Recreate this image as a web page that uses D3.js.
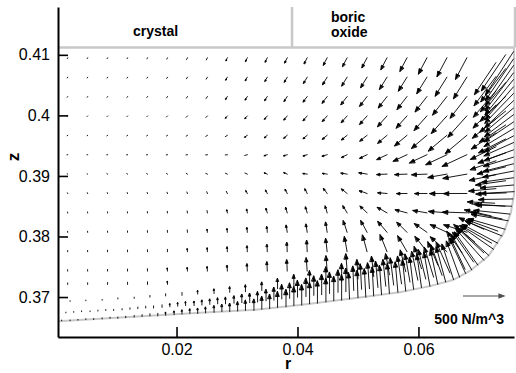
<!DOCTYPE html>
<html>
<head>
<meta charset="utf-8">
<script src="https://cdn.jsdelivr.net/npm/d3@7"></script>
<style>
  body { margin: 0; background: #fff; }
  svg { display: block; }
  text { font-family: "Liberation Sans", Arial, Helvetica, sans-serif; }
</style>
</head>
<body>
<div id="chart"></div>
<script>
// ---- data (r, z in m; force magnitude in N/m^3; direction in degrees, ccw from +r) ----

// melt outline: bottom (melt/crucible), corner and side wall
const meltR = [0.0004, 0.0073, 0.0156, 0.0239, 0.0331, 0.0404, 0.0487, 0.0569, 0.0619, 0.0657, 0.0685, 0.0716, 0.0741, 0.0753, 0.0758, 0.0759, 0.0758];
const meltZ = [0.3660, 0.3664, 0.3669, 0.3674, 0.3679, 0.3687, 0.3697, 0.3708, 0.3718, 0.3728, 0.3743, 0.3768, 0.3806, 0.3840, 0.3869, 0.3910, 0.4112];
const interfaceZ = 0.4112;
const dividerR = 0.0391;

// interior mesh nodes
const gridR = [0.0020, 0.0053, 0.0086, 0.0119, 0.0152, 0.0185, 0.0218, 0.0251, 0.0284, 0.0317, 0.0350, 0.0383, 0.0416, 0.0449, 0.0482, 0.0515, 0.0548, 0.0581, 0.0614, 0.0647, 0.0680];
const gridZ = [0.4095, 0.4063, 0.4031, 0.3999, 0.3967, 0.3935, 0.3903, 0.3871, 0.3839, 0.3807, 0.3775, 0.3743, 0.3721];
const gridMag = [
  [9, 9, 10, 11, 12, 16, 21, 27, 37, 46, 55, 67, 79, 98, 116, 134, 159, 183, 220, 256, 293],
  [9, 9, 10, 11, 12, 16, 21, 27, 37, 46, 55, 67, 85, 104, 122, 146, 171, 195, 232, 268, 305],
  [9, 9, 10, 11, 12, 16, 21, 27, 37, 46, 55, 67, 79, 98, 122, 146, 171, 195, 232, 281, 329],
  [9, 9, 10, 11, 12, 16, 20, 24, 33, 41, 49, 61, 73, 85, 104, 134, 171, 195, 232, 281, 342],
  [7, 7, 9, 10, 11, 13, 17, 22, 28, 37, 43, 52, 61, 73, 85, 110, 146, 195, 244, 293, 342],
  [7, 7, 9, 10, 11, 13, 16, 20, 24, 31, 37, 43, 49, 61, 73, 98, 134, 183, 232, 281, 329],
  [7, 7, 9, 10, 11, 13, 16, 20, 24, 31, 37, 43, 49, 55, 73, 98, 122, 146, 183, 232, 293],
  [7, 9, 10, 11, 12, 15, 18, 22, 28, 37, 43, 55, 61, 73, 85, 98, 110, 122, 146, 207, 281],
  [9, 10, 11, 12, 15, 18, 22, 27, 34, 43, 55, 67, 73, 85, 98, 116, 134, 146, 171, 220, 293],
  [10, 11, 12, 15, 18, 22, 27, 34, 43, 55, 67, 85, 98, 122, 146, 159, 171, 171, 183, 220, 293],
  [12, 13, 16, 18, 22, 27, 34, 43, 55, 67, 85, 110, 134, 159, 183, 207, 220, 220, 232, 268, null],
  [15, 16, 18, 22, 27, 33, 40, 51, 67, 85, 110, 134, 159, 183, 207, null, null, null, null, null, null],
  [16, 18, 21, 24, 29, 35, null, null, null, null, null, null, null, null, null, null, null, null, null, null, null]
];
const gridAng = [
  [242, 242, 242, 242, 242, 242, 242, 242, 242, 242, 242, 242, 242, 242, 242, 242, 242, 242, 242, 242, 242],
  [238, 238, 238, 238, 238, 238, 238, 238, 238, 238, 238, 238, 238, 238, 238, 238, 238, 238, 238, 238, 238],
  [235, 235, 235, 235, 235, 235, 235, 235, 235, 235, 235, 235, 232, 232, 232, 232, 232, 232, 232, 232, 232],
  [225, 225, 225, 225, 225, 225, 225, 225, 225, 225, 228, 228, 228, 228, 228, 228, 228, 228, 228, 228, 228],
  [212, 212, 212, 212, 212, 212, 212, 212, 212, 212, 218, 218, 218, 218, 218, 218, 220, 220, 220, 220, 220],
  [185, 185, 185, 185, 185, 185, 185, 185, 185, 195, 195, 195, 195, 195, 205, 205, 205, 205, 205, 205, 205],
  [145, 145, 145, 145, 145, 145, 145, 155, 155, 155, 155, 155, 170, 170, 170, 170, 182, 182, 182, 190, 190],
  [110, 110, 110, 110, 110, 110, 110, 110, 115, 115, 115, 115, 115, 125, 140, 160, 175, 180, 180, 180, 180],
  [98, 98, 98, 98, 98, 98, 98, 98, 98, 98, 105, 105, 105, 105, 120, 135, 150, 165, 170, 175, 178],
  [94, 94, 94, 94, 94, 94, 94, 94, 94, 94, 94, 98, 98, 98, 108, 118, 130, 135, 145, 155, 162],
  [92, 92, 92, 92, 92, 92, 92, 92, 92, 92, 92, 92, 92, 96, 100, 105, 112, 120, 128, 138, 148],
  [92, 92, 92, 92, 92, 92, 92, 92, 92, 92, 92, 92, 94, 94, 94, 94, 94, 94, 94, 94, 94],
  [90, 90, 90, 90, 90, 90, 90, 90, 90, 90, 90, 90, 90, 90, 90, 90, 90, 90, 90, 90, 90]
];

// wall layer 0: nodes on the melt boundary (bottom, corner, side)
const b0R = [0.0010, 0.0024, 0.0037, 0.0050, 0.0063, 0.0077, 0.0090, 0.0103, 0.0116, 0.0130, 0.0143, 0.0156, 0.0169, 0.0182, 0.0196, 0.0209, 0.0222, 0.0235, 0.0248, 0.0262, 0.0275, 0.0288, 0.0301, 0.0314, 0.0328, 0.0341, 0.0354, 0.0367, 0.0381, 0.0394, 0.0407, 0.0420, 0.0433, 0.0447, 0.0460, 0.0473, 0.0486, 0.0500, 0.0513, 0.0526, 0.0539, 0.0552, 0.0566, 0.0579, 0.0592, 0.0605, 0.0619, 0.0632, 0.0645, 0.0658,
  0.0668, 0.0678, 0.0688, 0.0698, 0.0708, 0.0716, 0.0724, 0.0731, 0.0738, 0.0743, 0.0748, 0.0751, 0.0754, 0.0756, 0.0758,
  0.0757, 0.0757, 0.0757, 0.0757, 0.0757, 0.0757, 0.0757, 0.0757, 0.0757, 0.0757, 0.0757, 0.0757, 0.0757, 0.0757, 0.0757, 0.0757, 0.0757, 0.0757, 0.0757, 0.0757];
const b0Z = [0.3661, 0.3661, 0.3662, 0.3663, 0.3663, 0.3664, 0.3665, 0.3665, 0.3666, 0.3667, 0.3668, 0.3669, 0.3669, 0.3670, 0.3671, 0.3672, 0.3673, 0.3673, 0.3674, 0.3675, 0.3676, 0.3676, 0.3677, 0.3678, 0.3678, 0.3680, 0.3681, 0.3683, 0.3684, 0.3686, 0.3687, 0.3689, 0.3690, 0.3692, 0.3694, 0.3695, 0.3697, 0.3699, 0.3700, 0.3702, 0.3704, 0.3706, 0.3708, 0.3710, 0.3713, 0.3716, 0.3718, 0.3721, 0.3725, 0.3729,
  0.3733, 0.3739, 0.3745, 0.3753, 0.3761, 0.3769, 0.3779, 0.3789, 0.3801, 0.3812, 0.3826, 0.3837, 0.3850, 0.3862, 0.3874,
  0.3885, 0.3897, 0.3908, 0.3920, 0.3931, 0.3943, 0.3955, 0.3966, 0.3978, 0.3989, 0.4001, 0.4012, 0.4024, 0.4036, 0.4047, 0.4059, 0.4070, 0.4082, 0.4093, 0.4105];
const b0Mag = [6, 6, 7, 7, 9, 10, 11, 12, 15, 17, 20, 24, 29, 34, 40, 46, 52, 60, 67, 76, 85, 98, 110, 122, 134, 153, 171, 189, 207, 226, 244, 256, 268, 281, 293, 305, 317, 329, 342, 348, 354, 360, 366, 378, 390, 403, 415, 427, 439, 451,
  464, 476, 488, 488, 500, 500, 500, 488, 476, 464, 451, 439, 427, 415, 403,
  403, 390, 378, 378, 378, 378, 390, 403, 415, 427, 439, 451, 476, 500, 525, 549, 573, 598, 610, 622];
const b0Ang = [90, 90, 90, 90, 90, 90, 90, 90, 90, 90, 90, 90, 90, 90, 90, 90, 90, 90, 90, 90, 90, 90, 90, 90, 90, 90, 90, 90, 90, 90, 90, 90, 90, 90, 90, 90, 92, 92, 93, 93, 94, 94, 95, 96, 97, 98, 100, 102, 105, 108,
  110, 115, 120, 125, 132, 138, 145, 152, 158, 164, 170, 174, 178, 181, 183,
  185, 188, 191, 194, 197, 200, 204, 208, 211, 214, 217, 220, 223, 226, 229, 231, 233, 235, 236, 237];

// wall layer 1
const b1R = [0.0017, 0.0030, 0.0043, 0.0057, 0.0070, 0.0083, 0.0096, 0.0110, 0.0123, 0.0136, 0.0149, 0.0162, 0.0176, 0.0189, 0.0202, 0.0215, 0.0229, 0.0242, 0.0255, 0.0268, 0.0281, 0.0295, 0.0308, 0.0321, 0.0334, 0.0348, 0.0361, 0.0374, 0.0387, 0.0400, 0.0414, 0.0427, 0.0440, 0.0453, 0.0467, 0.0480, 0.0493, 0.0506, 0.0519, 0.0533, 0.0546, 0.0559, 0.0572, 0.0586, 0.0599, 0.0612, 0.0625, 0.0639, 0.0652,
  0.0677, 0.0691, 0.0708, 0.0721, 0.0731, 0.0738, 0.0743, 0.0745,
  0.0744, 0.0744, 0.0744, 0.0744, 0.0744, 0.0744, 0.0744, 0.0744, 0.0744, 0.0744];
const b1Z = [0.3674, 0.3675, 0.3676, 0.3676, 0.3677, 0.3678, 0.3678, 0.3679, 0.3680, 0.3681, 0.3682, 0.3682, 0.3683, 0.3684, 0.3685, 0.3686, 0.3686, 0.3687, 0.3688, 0.3689, 0.3689, 0.3690, 0.3691, 0.3691, 0.3692, 0.3694, 0.3695, 0.3697, 0.3698, 0.3700, 0.3701, 0.3703, 0.3704, 0.3706, 0.3708, 0.3709, 0.3711, 0.3713, 0.3714, 0.3716, 0.3718, 0.3720, 0.3722, 0.3725, 0.3728, 0.3730, 0.3733, 0.3736, 0.3740,
  0.3746, 0.3758, 0.3773, 0.3789, 0.3809, 0.3829, 0.3850, 0.3872,
  0.3892, 0.3915, 0.3938, 0.3961, 0.3984, 0.4007, 0.4031, 0.4054, 0.4077, 0.4100];
const b1Mag = [6, 6, 7, 7, 9, 10, 11, 12, 15, 17, 20, 24, 29, 34, 39, 44, 50, 56, 61, 68, 77, 85, 98, 110, 122, 134, 153, 171, 183, 201, 220, 232, 244, 256, 268, 281, 293, 305, 311, 317, 323, 329, 336, 342, 354, 366, 378, 390, 403,
  415, 439, 439, 427, 403, 390, 378, 366,
  366, 354, 354, 366, 378, 403, 427, 464, 500, 525];
const b1Ang = [90, 90, 90, 90, 90, 90, 90, 90, 90, 90, 90, 90, 90, 90, 90, 90, 90, 90, 90, 90, 90, 90, 90, 90, 90, 90, 90, 90, 90, 90, 90, 90, 90, 90, 90, 90, 92, 93, 94, 95, 96, 97, 98, 100, 102, 104, 107, 110, 114,
  115, 125, 137, 150, 160, 168, 176, 182,
  188, 194, 200, 207, 213, 219, 224, 229, 233, 236];

// wall layer 2
const b2R = [0.0024, 0.0050, 0.0077, 0.0103, 0.0130, 0.0156, 0.0182, 0.0209, 0.0235, 0.0262, 0.0288, 0.0314, 0.0341, 0.0367, 0.0394, 0.0420, 0.0447, 0.0473, 0.0500, 0.0526, 0.0552, 0.0579, 0.0605, 0.0632,
  0.0672, 0.0693, 0.0708, 0.0720, 0.0726,
  0.0728, 0.0728, 0.0728, 0.0728, 0.0728, 0.0728, 0.0728, 0.0728, 0.0728, 0.0728];
const b2Z = [0.3693, 0.3694, 0.3695, 0.3697, 0.3698, 0.3700, 0.3702, 0.3703, 0.3705, 0.3706, 0.3708, 0.3709, 0.3711, 0.3714, 0.3717, 0.3720, 0.3723, 0.3726, 0.3730, 0.3734, 0.3737, 0.3742, 0.3747, 0.3753,
  0.3773, 0.3791, 0.3812, 0.3834, 0.3855,
  0.3879, 0.3902, 0.3925, 0.3948, 0.3971, 0.3994, 0.4017, 0.4040, 0.4064, 0.4087];
const b2Mag = [6, 6, 7, 10, 12, 18, 24, 32, 40, 51, 63, 79, 98, 122, 146, 171, 195, 214, 232, 244, 256, 268, 281, 305,
  317, 329, 329, 329, 329,
  329, 329, 329, 342, 354, 366, 390, 415, 439, 464];
const b2Ang = [90, 90, 90, 90, 90, 90, 90, 90, 90, 90, 90, 90, 90, 90, 90, 90, 90, 90, 93, 96, 100, 104, 108, 113,
  125, 140, 155, 167, 177,
  185, 192, 199, 206, 213, 219, 225, 229, 233, 236];

// axes
const xMajor = [0.02, 0.04, 0.06];
const xMinor = [0.005, 0.01, 0.015, 0.025, 0.03, 0.035, 0.045, 0.05, 0.055, 0.065, 0.07, 0.075];
const yMajor = [0.37, 0.38, 0.39, 0.40, 0.41];
const yMinor = [0.364, 0.366, 0.368, 0.372, 0.374, 0.376, 0.378, 0.382, 0.384, 0.386, 0.388, 0.392, 0.394, 0.396, 0.398, 0.402, 0.404, 0.406, 0.408, 0.412, 0.414, 0.416];
const refValue = 500;
const refLabel = '500 N/m^3';

// ---- chart ----
const W = 516, H = 373;
const svg = d3.select('#chart').append('svg')
    .attr('width', W)
    .attr('height', H);

svg.append('rect').attr('width', W).attr('height', H).attr('fill', '#fff');

const x = d3.scaleLinear().domain([0.0004, 0.0758]).range([58, 514]);
const y = d3.scaleLinear().domain([0.3634, 0.4179]).range([337, 7]);
const len = d3.scaleLinear().domain([0, refValue]).range([0, 41]);

// melt boundary + crystal / boric oxide frame
const outline = d3.line().x(d => x(d[0])).y(d => y(d[1]));
svg.append('path')
    .datum(d3.zip(meltR, meltZ))
    .attr('d', outline)
    .attr('fill', 'none')
    .attr('stroke', '#c8c8c8')
    .attr('stroke-width', 2);

const frame = svg.append('g').attr('stroke', '#c8c8c8').attr('stroke-width', 2.5);
frame.append('line')
    .attr('x1', x(0.0004)).attr('x2', x(0.0758))
    .attr('y1', y(interfaceZ)).attr('y2', y(interfaceZ));
frame.append('line')
    .attr('x1', x(dividerR)).attr('x2', x(dividerR))
    .attr('y1', y(0.4179)).attr('y2', y(interfaceZ));
frame.append('line')
    .attr('x1', x(0.0758) + 1).attr('x2', x(0.0758) + 1)
    .attr('y1', y(0.4179)).attr('y2', y(interfaceZ));

svg.append('text')
    .attr('x', 133).attr('y', 36)
    .attr('font-size', 14).attr('font-weight', 'bold')
    .text('crystal');
svg.append('text')
    .attr('x', 331).attr('y', 22)
    .attr('font-size', 14).attr('font-weight', 'bold')
    .text('boric');
svg.append('text')
    .attr('x', 331).attr('y', 37)
    .attr('font-size', 14).attr('font-weight', 'bold')
    .text('oxide');

// collect vectors
const vectors = [];
gridMag.forEach((row, i) => row.forEach((m, j) => {
    if (m != null) vectors.push({ r: gridR[j], z: gridZ[i], m: m, a: gridAng[i][j] });
}));
[[b0R, b0Z, b0Mag, b0Ang], [b1R, b1Z, b1Mag, b1Ang], [b2R, b2Z, b2Mag, b2Ang]].forEach(([rs, zs, ms, as]) => {
    rs.forEach((r, i) => vectors.push({ r: r, z: zs[i], m: ms[i], a: as[i] }));
});

function arrowPath(x0, y0, m, a) {
    const L = len(m);
    const t = a * Math.PI / 180;
    const ux = Math.cos(t), uy = -Math.sin(t);
    const x1 = x0 + L * ux, y1 = y0 + L * uy;
    const p = d3.path();
    p.moveTo(x0, y0);
    p.lineTo(x1, y1);
    const h = Math.min(5, L * 0.3);
    if (h > 0.8) {
        const w = h * 0.38;
        const bx = x1 - h * ux, by = y1 - h * uy;
        p.moveTo(x1, y1);
        p.lineTo(bx - w * uy, by + w * ux);
        p.lineTo(bx + w * uy, by - w * ux);
        p.closePath();
    }
    return p.toString();
}

svg.append('g')
    .selectAll('path')
    .data(vectors)
    .join('path')
    .attr('d', d => arrowPath(x(d.r), y(d.z), d.m, d.a))
    .attr('fill', '#000')
    .attr('stroke', '#000')
    .attr('stroke-width', 0.9)
    .attr('stroke-linecap', 'square');

// reference vector
svg.append('path')
    .attr('d', arrowPath(463, 296, refValue, 0))
    .attr('fill', '#505050')
    .attr('stroke', '#505050')
    .attr('stroke-width', 1.2);
svg.append('text')
    .attr('x', 504).attr('y', 324)
    .attr('text-anchor', 'end')
    .attr('font-size', 14).attr('font-weight', 'bold')
    .text(refLabel);

// axes
const xAxis = svg.append('g').attr('transform', 'translate(0,337)');
xAxis.call(d3.axisBottom(x).tickValues(xMinor).tickSize(-5).tickSizeOuter(0).tickFormat(''));
xAxis.call(d3.axisBottom(x).tickValues(xMajor).tickSize(-10).tickSizeOuter(0).tickPadding(7).tickFormat(d3.format('.2f')));

const yAxis = svg.append('g').attr('transform', 'translate(58,0)');
yAxis.call(d3.axisLeft(y).tickValues(yMinor).tickSize(-5).tickSizeOuter(0).tickFormat(''));
yAxis.call(d3.axisLeft(y).tickValues(yMajor).tickSize(-10).tickSizeOuter(0).tickPadding(8).tickFormat(d3.format('.2~f')));

svg.selectAll('.domain').attr('stroke', '#000').attr('stroke-width', 2);
svg.selectAll('.tick line').attr('stroke', '#000').attr('stroke-width', 1.6);
svg.selectAll('.tick text').attr('font-size', 16).attr('fill', '#000')
    .attr('font-family', '"Liberation Sans", Arial, sans-serif');

svg.append('text')
    .attr('x', 288).attr('y', 369)
    .attr('text-anchor', 'middle')
    .attr('font-size', 16).attr('font-weight', 'bold')
    .text('r');
svg.append('text')
    .attr('transform', 'translate(19,157) rotate(-90)')
    .attr('text-anchor', 'middle')
    .attr('font-size', 17).attr('font-weight', 'bold')
    .text('z');
</script>
</body>
</html>
